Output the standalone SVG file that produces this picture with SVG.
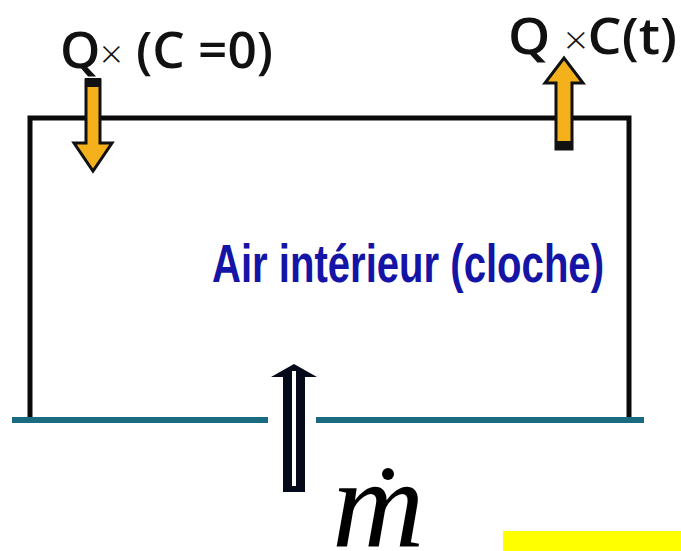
<svg xmlns="http://www.w3.org/2000/svg" width="681" height="551" viewBox="0 0 681 551">
<style>
.lbl{font-family:"Open Sans","Noto Sans",sans-serif;font-weight:600;font-size:50px;fill:#111}
.x{font-weight:300;font-size:38px}
.wall{stroke:#0a0a0a;stroke-width:5;fill:none}
.floor{stroke:#1a6a80;stroke-width:6}
.orange{fill:#f4b11c;stroke:#111;stroke-width:3;stroke-linejoin:miter}
</style>
<rect width="681" height="551" fill="#fff"/>
<g id="box">
<path class="wall" d="M30 418 V118 H629 V418"/>
</g>
<g id="floor">
<line class="floor" x1="12" y1="420" x2="268" y2="420"/>
<line class="floor" x1="316" y1="420" x2="644" y2="420"/>
</g>
<g id="label-in">
<text class="lbl" x="60" y="68" textLength="213" lengthAdjust="spacingAndGlyphs">Q<tspan class="x">×</tspan> (C =0)</text>
</g>
<g id="label-out">
<text class="lbl" x="508" y="54" textLength="169" lengthAdjust="spacingAndGlyphs">Q <tspan class="x">×</tspan>C(t)</text>
</g>
<g id="air">
<text x="212" y="282" font-family="Liberation Sans, Arial, sans-serif" font-weight="bold" font-size="54" fill="#1414a6" textLength="392" lengthAdjust="spacingAndGlyphs">Air intérieur (cloche)</text>
</g>
<g id="connectors">
<path class="orange" d="M86 80 H100 V143 H112 L93 171 L74 143 H86 Z"/>
<rect x="85" y="78" width="16" height="9" fill="#111"/>
<path class="orange" d="M556 149 V83 H545 L564 58 L583 83 H572 V149 Z"/>
<rect x="555" y="141" width="18" height="9" fill="#111"/>
<path d="M283 492 V377 H271 L294 364 L317 377 H305 V492 Z" fill="#050a1a"/>
<line x1="294" y1="371" x2="294" y2="486" stroke="#fff" stroke-width="4"/>
</g>
<g id="mdot">
<text x="332" y="547" font-family="Liberation Serif, Times New Roman, serif" font-style="italic" font-size="128" fill="#000">m</text>
<circle cx="388" cy="474" r="6" fill="#000"/>
</g>
<rect x="503" y="531" width="178" height="20" fill="#ffff00"/>
</svg>
